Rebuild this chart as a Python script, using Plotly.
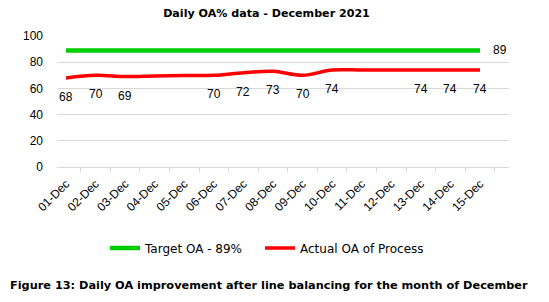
import plotly.graph_objects as go

days = ["01-Dec", "02-Dec", "03-Dec", "04-Dec", "05-Dec", "06-Dec", "07-Dec", "08-Dec",
        "09-Dec", "10-Dec", "11-Dec", "12-Dec", "13-Dec", "14-Dec", "15-Dec"]
target = [89] * 15
actual = [68, 70, 69, 69.5, 69.8, 70, 72, 73, 70, 74, 74, 74, 74, 74, 74]
actual_labels = ["68", "70", "69", "", "", "70", "72", "73", "70", "74", "", "", "74", "74", "74"]
target_labels = [""] * 14 + ["89"]
yticks = [0, 20, 40, 60, 80, 100]

lab_font = dict(family="Liberation Sans, Arial", size=12, color="#000000")
leg_font = dict(family="DejaVu Sans", size=12, color="#000000")

fig = go.Figure()
fig.add_trace(go.Scatter(
    x=days, y=target, name="Target OA - 89%", mode="lines",
    line=dict(color="#00cc00", width=4.5, shape="spline"), legend="legend",
))
fig.add_trace(go.Scatter(
    x=days, y=actual, name="Actual OA of Process", mode="lines",
    line=dict(color="#ff0000", width=3.5, shape="spline"), legend="legend2",
))

annotations = []
for d, v, t in zip(days, actual, actual_labels):
    if t:
        annotations.append(dict(x=d, y=v, text=t, showarrow=False, yshift=-19,
                                xanchor="center", yanchor="middle", font=lab_font))
for d, v, t in zip(days, target, target_labels):
    if t:
        annotations.append(dict(x=d, y=v, text=t, showarrow=False, xshift=20,
                                xanchor="center", yanchor="middle", font=lab_font))

annotations.append(dict(
    text="<b>Figure 13: Daily OA improvement after line balancing for the month of December</b>",
    xref="paper", yref="paper", x=(268.5 - 57) / 452, xanchor="center",
    y=-0.908, yanchor="middle", showarrow=False,
    font=dict(family="DejaVu Sans", size=11.3, color="#000000")))

fig.update_layout(
    width=541, height=294,
    margin=dict(l=49, r=40, t=28, b=135, autoexpand=False),
    paper_bgcolor="white", plot_bgcolor="white",
    title=dict(text="<b>Daily OA% data - December 2021</b>", x=(266.5 - 8) / 541, xanchor="center",
               y=1 - 5 / 294, yanchor="middle",
               font=dict(family="DejaVu Sans", size=11.1, color="#000000")),
    showlegend=True,
    legend=dict(orientation="h", x=(111 - 57 - 6) / 452, xanchor="left", y=-0.618, yanchor="middle",
                font=leg_font, itemwidth=30),
    legend2=dict(orientation="h", x=(266 - 57 - 6) / 452, xanchor="left", y=-0.618, yanchor="middle",
                 font=leg_font, itemwidth=30),
    xaxis=dict(type="category", tickangle=-45, ticks="outside", tickson="boundaries",
               ticklen=4, tickcolor="#d9d9d9", showline=True, linecolor="#d9d9d9",
               showgrid=False, automargin=False, ticklabelstandoff=4,
               tickfont=dict(family="Liberation Sans, Arial", size=12, color="#000000")),
    yaxis=dict(range=[0, 100], tickvals=yticks, showgrid=True, gridcolor="#d9d9d9",
               zeroline=False, ticks="", ticklabelstandoff=13, automargin=False,
               tickfont=dict(family="Liberation Sans, Arial", size=12, color="#000000")),
    annotations=annotations,
)

fig.write_html("out.html")
